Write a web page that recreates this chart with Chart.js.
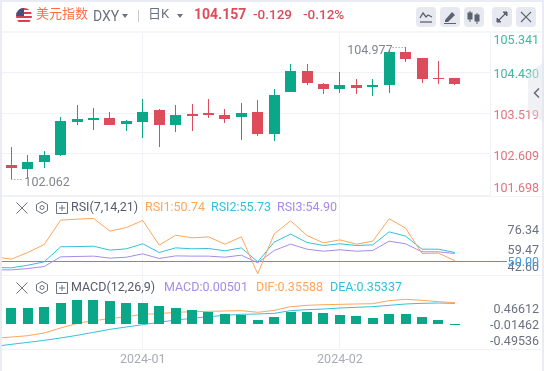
<!DOCTYPE html>
<html>
<head>
<meta charset="utf-8">
<title>DXY</title>
<script src="https://cdn.jsdelivr.net/npm/chart.js@4/dist/chart.umd.min.js"></script>
<style>
    html, body { margin: 0; padding: 0; width: 544px; height: 371px; overflow: hidden; background: #e9ecf5; font-family: Roboto, "Noto Sans CJK SC", sans-serif; }
    #panel { position: absolute; left: 2px; top: 2px; width: 540px; height: 369px; background: #fff; }
    canvas { position: absolute; left: 0; top: 0; }
    #strip { position: absolute; left: 2px; top: 31px; width: 540px; height: 2px; background: #f5f6fa; }
    .t { position: absolute; white-space: nowrap; line-height: 16px; height: 16px; }
    .btn { position: absolute; top: 7px; width: 20px; height: 20px; background: #e7e9f1; border-radius: 4px; }
    .btn svg { position: absolute; left: 2px; top: 2px; }
    .ico { position: absolute; }
    #handle { position: absolute; left: 528px; top: 62px; width: 16px; height: 61px; background: rgba(225, 227, 236, 0.5); clip-path: polygon(100% 0, 0 12px, 0 49px, 100% 100%); }
</style>
</head>
<body>
<div id="panel"></div>
<canvas id="dxyChart" width="544" height="371"></canvas>
<div id="strip"></div>

<svg class="ico" style="left:16px;top:8px" width="16" height="16" viewBox="0 0 16 16">
    <defs><clipPath id="flagClip"><circle cx="8" cy="8" r="8"/></clipPath></defs>
    <g clip-path="url(#flagClip)">
        <rect width="16" height="16" fill="#fff"/>
        <rect y="0" width="16" height="2" fill="#d8414f"/><rect y="4" width="16" height="2" fill="#d8414f"/>
        <rect y="8" width="16" height="2" fill="#d8414f"/><rect y="12" width="16" height="2" fill="#d8414f"/>
        <rect width="8" height="8" fill="#44507f"/>
    </g>
</svg>
<div class="t" style="left:36px;top:6px;font-size:13px;color:#ff6f3f">美元指数</div>
<div class="t" style="left:93px;top:8px;font-size:14px;color:#6c7280">DXY</div>
<svg class="ico" style="left:122px;top:14px" width="6" height="4"><path d="M0 0H6L3 4Z" fill="#6c7280"/></svg>
<div class="ico" style="left:138px;top:10px;width:1px;height:12px;background:#c9ccd6"></div>
<div class="t" style="left:148px;top:6px;font-size:13px;color:#6c7280">日K</div>
<svg class="ico" style="left:177px;top:14px" width="6" height="4"><path d="M0 0H6L3 4Z" fill="#6c7280"/></svg>
<div class="t" style="left:194px;top:6px;font-size:14px;font-weight:700;color:#dc4c5a">104.157</div>
<div class="t" style="left:253px;top:6px;font-size:13.5px;font-weight:500;color:#dc4c5a">-0.129</div>
<div class="t" style="left:303px;top:6px;font-size:13.5px;font-weight:500;color:#dc4c5a">-0.12%</div>

<div class="btn" style="left:416px"><svg width="16" height="16" fill="none" stroke="#5c6270" stroke-width="1.3"><path d="M2 9L5 4L8 8L10 6L14 8"/><path d="M2 13H14"/></svg></div>
<div class="btn" style="left:440px"><svg width="16" height="16"><path d="M3 11L10 3L13 6L6 13H3Z" fill="#5c6270"/><path d="M2 14.5H14" stroke="#5c6270"/></svg></div>
<div class="btn" style="left:464px"><svg width="16" height="16" fill="#5c6270" stroke="#5c6270"><path d="M4 2V13M11 4V15" stroke-width="1"/><rect x="2" y="4" width="4" height="6"/><rect x="9" y="6" width="4" height="6"/></svg></div>
<div class="btn" style="left:492px"><svg width="16" height="16" fill="#5c6270" stroke="#5c6270"><path d="M3 13L13 3" stroke-width="1.2"/><path d="M9 3H13V7Z"/><path d="M3 9V13H7Z"/></svg></div>
<div class="btn" style="left:516px"><svg width="16" height="16" fill="none" stroke="#5c6270" stroke-width="1.2"><path d="M3 3L13 13M13 3L3 13"/></svg></div>
<div id="handle"><svg style="position:absolute;left:5px;top:26px" width="7" height="10" fill="none" stroke="#6b7180" stroke-width="1.6"><path d="M6 0.5L1.5 5L6 9.5"/></svg></div>

<!-- RSI pane header -->
<svg class="ico" style="left:16px;top:202px" width="12" height="12" fill="none" stroke="#6b7180"><path d="M0.5 0.5L11.5 11.5M11.5 0.5L0.5 11.5"/></svg>
<svg class="ico" style="left:36px;top:201px" width="12" height="13" fill="none" stroke="#6b7180"><path d="M6 0.5L11.5 3.5V9.5L6 12.5L0.5 9.5V3.5Z"/><circle cx="6" cy="6.5" r="2"/></svg>
<svg class="ico" style="left:56px;top:202px" width="12" height="12" fill="none" stroke="#6b7180"><path d="M0.5 0.5H11.5V11.5H0.5ZM6 3V9M3 6H9"/></svg>
<div class="t" style="left:71px;top:199px;font-size:12.5px;color:#555c6b">RSI(7,14,21)</div>
<div class="t" style="left:145px;top:199px;font-size:12.5px;color:#ffa55c">RSI1:50.74</div>
<div class="t" style="left:211px;top:199px;font-size:12.5px;color:#34c0da">RSI2:55.73</div>
<div class="t" style="left:277px;top:199px;font-size:12.5px;color:#a78bea">RSI3:54.90</div>

<!-- MACD pane header -->
<svg class="ico" style="left:16px;top:282px" width="12" height="12" fill="none" stroke="#6b7180"><path d="M0.5 0.5L11.5 11.5M11.5 0.5L0.5 11.5"/></svg>
<svg class="ico" style="left:36px;top:281px" width="12" height="13" fill="none" stroke="#6b7180"><path d="M6 0.5L11.5 3.5V9.5L6 12.5L0.5 9.5V3.5Z"/><circle cx="6" cy="6.5" r="2"/></svg>
<svg class="ico" style="left:56px;top:282px" width="12" height="12" fill="none" stroke="#6b7180"><path d="M0.5 0.5H11.5V11.5H0.5ZM6 3V9M3 6H9"/></svg>
<div class="t" style="left:71px;top:279px;font-size:12.5px;color:#555c6b">MACD(12,26,9)</div>
<div class="t" style="left:164px;top:279px;font-size:12.5px;color:#a78bea">MACD:0.00501</div>
<div class="t" style="left:256px;top:279px;font-size:12.5px;color:#ffa55c">DIF:0.35588</div>
<div class="t" style="left:330px;top:279px;font-size:12.5px;color:#34c0da">DEA:0.35337</div>

<script>
// candles, left to right
const opens  = [102.375, 102.286, 102.442, 102.597, 103.330, 103.375, 103.419, 103.286, 103.330, 103.597, 103.264, 103.508, 103.530, 103.486, 103.441, 103.552, 103.064, 103.997, 104.463, 104.174, 104.063, 104.152, 104.108, 104.152, 104.885, 104.752, 104.308, 104.308];
const closes = [102.308, 102.442, 102.597, 103.352, 103.397, 103.419, 103.264, 103.352, 103.552, 103.264, 103.486, 103.463, 103.486, 103.397, 103.530, 103.064, 103.930, 104.463, 104.196, 104.063, 104.152, 104.085, 104.152, 104.885, 104.730, 104.285, 104.285, 104.157];
const highs  = [102.775, 102.597, 102.686, 103.441, 103.708, 103.641, 103.552, 103.375, 103.841, 103.619, 103.708, 103.730, 103.841, 103.619, 103.752, 103.819, 104.063, 104.619, 104.619, 104.196, 104.441, 104.285, 104.285, 104.944, 104.977, 104.752, 104.685, 104.308];
const lows   = [102.062, 102.086, 102.308, 102.575, 103.264, 103.152, 103.264, 103.130, 102.975, 102.775, 103.108, 103.130, 103.419, 103.308, 102.930, 103.019, 102.908, 103.982, 104.152, 103.952, 103.974, 103.952, 103.908, 103.974, 104.663, 104.196, 104.174, 104.150];

// indicator lines start one bar before the first candle
const rsi1 = [53.9, 52.0, 57.5, 64.2, 84.6, 85.4, 86.0, 75.4, 78.4, 84.3, 63.7, 72.0, 69.8, 70.6, 64.5, 70.6, 39.7, 73.1, 84.0, 71.7, 65.6, 68.1, 64.5, 67.0, 85.7, 77.9, 56.7, 57.0, 50.74];
const rsi2 = [45.0, 44.7, 46.9, 49.7, 62.3, 62.5, 62.8, 59.5, 60.6, 64.8, 57.5, 61.4, 60.6, 60.9, 58.9, 61.4, 49.7, 66.2, 72.9, 65.9, 63.4, 64.8, 63.4, 63.9, 74.8, 71.2, 60.3, 60.3, 57.5];
const rsi3 = [43.0, 43.0, 44.1, 45.8, 53.9, 54.2, 54.5, 52.8, 53.6, 56.4, 52.5, 54.7, 54.5, 54.5, 53.6, 55.3, 48.9, 59.2, 64.5, 60.3, 58.6, 59.8, 58.6, 59.2, 67.0, 64.8, 58.1, 58.1, 56.7];
const dif  = [-0.438, -0.398, -0.357, -0.275, -0.122, 0.020, 0.102, 0.163, 0.224, 0.296, 0.316, 0.357, 0.377, 0.387, 0.398, 0.408, 0.357, 0.418, 0.530, 0.571, 0.591, 0.601, 0.612, 0.622, 0.714, 0.754, 0.724, 0.683, 0.652];
const dea  = [-0.683, -0.622, -0.561, -0.499, -0.428, -0.347, -0.255, -0.163, -0.092, -0.020, 0.051, 0.122, 0.173, 0.224, 0.265, 0.296, 0.306, 0.326, 0.408, 0.438, 0.459, 0.489, 0.510, 0.530, 0.571, 0.612, 0.632, 0.642, 0.632];
const macdBars = [0.489, 0.489, 0.520, 0.640, 0.734, 0.734, 0.703, 0.642, 0.642, 0.550, 0.489, 0.428, 0.367, 0.306, 0.275, 0.122, 0.214, 0.367, 0.367, 0.336, 0.275, 0.245, 0.183, 0.306, 0.306, 0.214, 0.122, 0.005];

// axis labels
const priceTicks = [105.341, 104.430, 103.519, 102.609, 101.698];
const rsiTicks = [76.34, 59.47, 42.60, 50.00];
const macdTicks = [0.46612, -0.01462, -0.49536];
const dateTicks = [8, 20];
const dateLabels = ['2024-01', '2024-02'];

const UP = '#0aa789';
const DOWN = '#dc4c5a';
const ORANGE = '#ffa55c';
const CYAN = '#34c0da';
const PURPLE = '#a78bea';
const BLUE = '#3f9ae6';

const candleColors = closes.map((c, i) => c >= opens[i] ? UP : DOWN);

function lineSet(values, color, axis) {
    return {
        type: 'line',
        data: values.map((v, i) => ({ x: i - 1, y: v })),
        borderColor: color,
        borderWidth: 1,
        pointRadius: 0,
        tension: 0,
        yAxisID: axis
    };
}

function drawAxisLabels(ctx, scale, values, decimals, dy, colorOf) {
    values.forEach(v => {
        // labels are kept inside their own pane
        const y = Math.min(Math.max(scale.getPixelForValue(v) + dy, scale.top + 10), scale.bottom - 7);
        ctx.fillStyle = colorOf(v);
        ctx.fillText(v.toFixed(decimals), 539, y);
    });
}

// bars land on whole pixels, so wicks stay one pixel wide
const snapBars = {
    id: 'snapBars',
    afterDatasetsUpdate(chart) {
        chart.getSortedVisibleDatasetMetas().forEach(meta => {
            if (meta.type !== 'bar') return;
            meta.data.forEach(bar => {
                bar.x = bar.width % 2 ? Math.floor(bar.x) + 0.5 : Math.round(bar.x);
                bar.y = Math.round(bar.y);
                bar.base = Math.round(bar.base);
                if (bar.y === bar.base) bar.base += 1;
            });
        });
    }
};

// separators, value labels on the right and the high/low marks
const paneDecor = {
    id: 'paneDecor',
    beforeDatasetsDraw(chart) {
        const ctx = chart.ctx;
        ctx.save();
        ctx.strokeStyle = '#f1f2f7';
        ctx.lineWidth = 1;
        [chart.scales.y.bottom, chart.scales.rsi.bottom, chart.scales.macd.bottom].forEach(y => {
            ctx.beginPath();
            ctx.moveTo(2, Math.round(y) + 0.5);
            ctx.lineTo(542, Math.round(y) + 0.5);
            ctx.stroke();
        });
        ctx.beginPath();
        ctx.moveTo(490.5, chart.scales.y.top);
        ctx.lineTo(490.5, chart.scales.y.bottom);
        ctx.stroke();
        ctx.restore();
    },
    afterDraw(chart) {
        const ctx = chart.ctx;
        const { x, y, rsi, macd } = chart.scales;
        ctx.save();

        // the 50 line runs on past the plot into the axis
        const y50 = Math.floor(rsi.getPixelForValue(50)) + 0.5;
        ctx.strokeStyle = BLUE;
        ctx.beginPath();
        ctx.moveTo(490, y50);
        ctx.lineTo(507, y50);
        ctx.stroke();

        ctx.font = '12.5px Roboto, sans-serif';
        ctx.textAlign = 'right';
        ctx.textBaseline = 'middle';
        drawAxisLabels(ctx, y, priceTicks, 3, 3, v => v > 104 ? '#3db9a2' : '#e2727d');
        drawAxisLabels(ctx, rsi, rsiTicks, 2, 1, v => v === 50 ? BLUE : '#6b7180');
        drawAxisLabels(ctx, macd, macdTicks, 5, 1.5, () => '#6b7180');

        // highest and lowest wick
        const hi = highs.indexOf(Math.max(...highs));
        const lo = lows.indexOf(Math.min(...lows));
        const hx = x.getPixelForValue(hi), hy = y.getPixelForValue(highs[hi]);
        const lx = x.getPixelForValue(lo), ly = y.getPixelForValue(lows[lo]);
        ctx.fillStyle = '#80858f';
        ctx.textAlign = 'right';
        ctx.fillText(highs[hi].toFixed(3), hx - 13, hy + 3);
        ctx.textAlign = 'left';
        ctx.fillText(lows[lo].toFixed(3), lx + 13, ly + 4.5);
        ctx.strokeStyle = '#80858f';
        ctx.setLineDash([1, 2]);
        ctx.beginPath();
        ctx.moveTo(hx - 13, Math.round(hy) + 0.5);
        ctx.lineTo(hx, Math.round(hy) + 0.5);
        ctx.moveTo(lx, Math.round(ly) + 0.5);
        ctx.lineTo(lx + 12, Math.round(ly) + 0.5);
        ctx.stroke();
        ctx.restore();
    }
};

function fixedWidth(scale) { scale.width = 53; }

new Chart(document.getElementById('dxyChart'), {
    data: {
        datasets: [
            {
                type: 'bar',
                data: lows.map((l, i) => ({ x: i, y: [l, highs[i]] })),
                backgroundColor: candleColors,
                barThickness: 1,
                inflateAmount: 0,
                yAxisID: 'y'
            },
            {
                type: 'bar',
                data: opens.map((o, i) => ({ x: i, y: [o, closes[i]] })),
                backgroundColor: candleColors,
                barThickness: 11,
                inflateAmount: 0,
                yAxisID: 'y'
            },
            lineSet(rsi1, ORANGE, 'rsi'),
            lineSet(rsi2, CYAN, 'rsi'),
            lineSet(rsi3, PURPLE, 'rsi'),
            {
                type: 'line',
                data: [{ x: -1, y: 50 }, { x: 30, y: 50 }],
                borderColor: BLUE,
                borderWidth: 1,
                pointRadius: 0,
                yAxisID: 'rsi'
            },
            {
                type: 'bar',
                data: macdBars.map((v, i) => ({ x: i, y: v })),
                backgroundColor: UP,
                barThickness: 10,
                inflateAmount: 0,
                yAxisID: 'macd'
            },
            lineSet(dif, ORANGE, 'macd'),
            lineSet(dea, CYAN, 'macd')
        ]
    },
    options: {
        responsive: false,
        animation: false,
        events: [],
        layout: { padding: { top: 31, left: 2, right: 0, bottom: 0 } },
        datasets: { bar: { grouped: false } },
        plugins: { legend: { display: false }, tooltip: { enabled: false } },
        scales: {
            x: {
                type: 'linear',
                offset: false,
                min: -0.57,
                max: 29.2,
                afterFit(scale) { scale.height = 22; },
                afterBuildTicks(scale) { scale.ticks = dateTicks.map(v => ({ value: v })); },
                grid: { color: '#f1f2f7', drawTicks: false, offset: false },
                border: { display: false },
                ticks: {
                    autoSkip: false,
                    maxRotation: 0,
                    padding: 3,
                    color: '#a8acb7',
                    font: { size: 12.5, family: 'Roboto, sans-serif' },
                    callback: v => dateLabels[dateTicks.indexOf(v)]
                }
            },
            y: {
                position: 'right',
                stack: 'panes',
                stackWeight: 165,
                min: 101.676,
                max: 105.341,
                afterFit: fixedWidth,
                afterBuildTicks(scale) { scale.ticks = priceTicks.map(v => ({ value: v })); },
                grid: { color: '#f1f2f7', drawTicks: false },
                border: { display: false },
                ticks: { display: false }
            },
            rsi: {
                position: 'right',
                stack: 'panes',
                stackWeight: 79,
                min: 38.71,
                max: 104.77,
                afterFit: fixedWidth,
                grid: { display: false, drawTicks: false },
                border: { display: false },
                ticks: { display: false }
            },
            macd: {
                position: 'right',
                stack: 'panes',
                stackWeight: 74,
                min: -0.7645,
                max: 1.4985,
                afterFit: fixedWidth,
                grid: { display: false, drawTicks: false },
                border: { display: false },
                ticks: { display: false }
            }
        }
    },
    plugins: [snapBars, paneDecor]
});
</script>
</body>
</html>
